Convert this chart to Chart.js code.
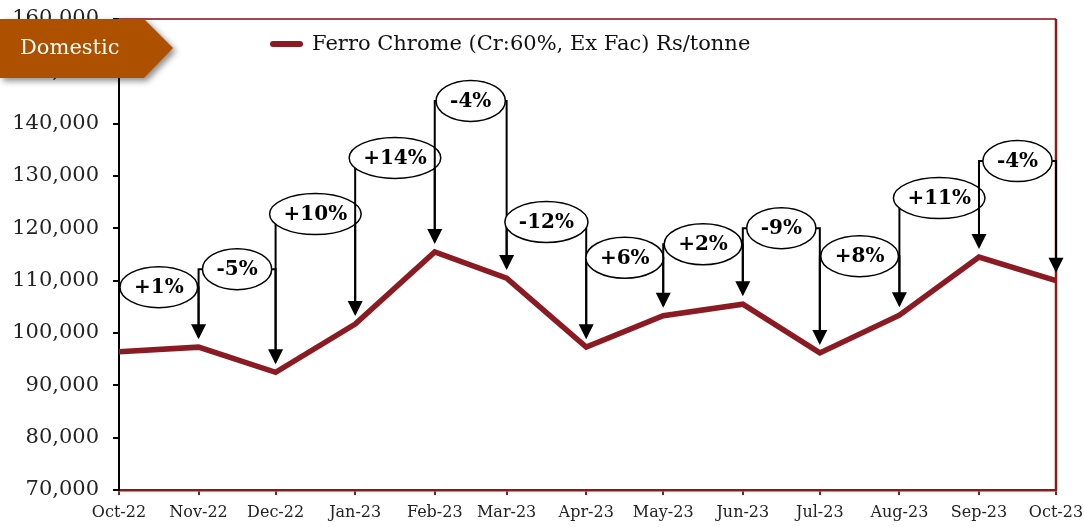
<!DOCTYPE html>
<html>
<head>
<meta charset="utf-8">
<script src="https://cdn.jsdelivr.net/npm/chart.js@4.4.1/dist/chart.umd.min.js"></script>
<style>
  html, body { margin: 0; padding: 0; background: #fff; }
  #wrap { width: 1084px; height: 527px; position: relative; }
</style>
</head>
<body>
<div id="wrap"><canvas id="ferroChart"></canvas></div>
<script>
// data
var monthDates = ['2022-10-01', '2022-11-01', '2022-12-01', '2023-01-01', '2023-02-01', '2023-03-01', '2023-04-01',
                  '2023-05-01', '2023-06-01', '2023-07-01', '2023-08-01', '2023-09-01', '2023-10-01'];
var monthLabels = ['Oct-22', 'Nov-22', 'Dec-22', 'Jan-23', 'Feb-23', 'Mar-23', 'Apr-23',
                   'May-23', 'Jun-23', 'Jul-23', 'Aug-23', 'Sep-23', 'Oct-23'];
var ferroChrome = [96400, 97300, 92500, 101700, 115500, 110500, 97300, 103300, 105500, 96200, 103400, 114500, 110000];
var changeLabels = ['+1%', '-5%', '+10%', '+14%', '-4%', '-12%', '+6%', '+2%', '-9%', '+8%', '+11%', '-4%'];
var yTicks = [70000, 80000, 90000, 100000, 110000, 120000, 130000, 140000, 150000, 160000];
var seriesName = 'Ferro Chrome (Cr:60%, Ex Fac) Rs/tonne';
var boxTitle = 'Domestic';

// how high each callout bubble sits above the higher of its two points (px)
var calloutLift = [60, 78, 110, 94, 151, 56, 58, 60, 76, 59, 59, 96];

var lineColor = '#8B1A22';
var serif = "'DejaVu Serif', serif";

// month positions in days since the first month (the axis is a day scale)
var dayOffsets = monthDates.map(function(d) {
    return (Date.parse(d) - Date.parse(monthDates[0])) / 86400000;
});

var points = dayOffsets.map(function(x, i) { return { x: x, y: ferroChrome[i] }; });

var extrasPlugin = {
    id: 'extras',
    beforeDatasetsDraw: function(chart) {
        var ctx = chart.ctx, a = chart.chartArea;
        ctx.save();
        // top frame line
        ctx.strokeStyle = '#A4474B';
        ctx.lineWidth = 2;
        ctx.beginPath();
        ctx.moveTo(a.left, a.top);
        ctx.lineTo(a.right, a.top);
        ctx.stroke();
        // right frame line
        ctx.strokeStyle = '#8B1A1A';
        ctx.lineWidth = 2.5;
        ctx.beginPath();
        ctx.moveTo(a.right, a.top);
        ctx.lineTo(a.right, a.bottom);
        ctx.stroke();
        ctx.restore();
    },
    afterDatasetsDraw: function(chart) {
        var ctx = chart.ctx;
        var xs = chart.scales.x, ys = chart.scales.y;
        ctx.save();
        // legend
        ctx.strokeStyle = lineColor;
        ctx.lineWidth = 6;
        ctx.lineCap = 'round';
        ctx.beginPath();
        ctx.moveTo(273, 44);
        ctx.lineTo(300, 44);
        ctx.stroke();
        ctx.lineCap = 'butt';
        ctx.fillStyle = '#111';
        ctx.font = '21px ' + serif;
        ctx.textBaseline = 'middle';
        ctx.textAlign = 'left';
        ctx.fillText(seriesName, 312, 45);

        // change callouts
        ctx.font = 'bold 20px ' + serif;
        ctx.textAlign = 'center';
        for (var i = 1; i < ferroChrome.length; i++) {
            var x0 = xs.getPixelForValue(dayOffsets[i - 1]);
            var x1 = xs.getPixelForValue(dayOffsets[i]);
            var y0 = ys.getPixelForValue(ferroChrome[i - 1]);
            var y1 = ys.getPixelForValue(ferroChrome[i]);
            var cy = Math.min(y0, y1) - calloutLift[i - 1];
            var tip = y1 - 8;
            ctx.strokeStyle = '#000';
            ctx.lineWidth = 2;
            ctx.beginPath();
            ctx.moveTo(x0, y0 - 10);
            ctx.lineTo(x0, cy);
            ctx.lineTo(x1, cy);
            ctx.lineTo(x1, tip - 14);
            ctx.stroke();
            ctx.fillStyle = '#000';
            ctx.beginPath();
            ctx.moveTo(x1 - 7.5, tip - 15);
            ctx.lineTo(x1 + 7.5, tip - 15);
            ctx.lineTo(x1, tip);
            ctx.closePath();
            ctx.fill();

            var label = changeLabels[i - 1];
            var tw = ctx.measureText(label).width;
            var cx = (x0 + x1) / 2;
            ctx.beginPath();
            ctx.ellipse(cx, cy, tw / 2 + 14, 20.5, 0, 0, Math.PI * 2);
            ctx.fillStyle = '#fff';
            ctx.fill();
            ctx.lineWidth = 1.5;
            ctx.stroke();
            ctx.fillStyle = '#000';
            ctx.fillText(label, cx, cy + 1);
        }
        ctx.restore();
    },
    afterDraw: function(chart) {
        var ctx = chart.ctx;
        ctx.save();
        ctx.shadowColor = 'rgba(0,0,0,0.45)';
        ctx.shadowBlur = 6;
        ctx.shadowOffsetX = 3;
        ctx.shadowOffsetY = 3;
        ctx.fillStyle = '#AD5000';
        ctx.beginPath();
        ctx.moveTo(0, 19);
        ctx.lineTo(144, 19);
        ctx.lineTo(173, 48);
        ctx.lineTo(144, 78);
        ctx.lineTo(0, 78);
        ctx.closePath();
        ctx.fill();
        ctx.shadowColor = 'transparent';
        ctx.fillStyle = '#fff';
        ctx.font = '21px ' + serif;
        ctx.textAlign = 'left';
        ctx.textBaseline = 'middle';
        ctx.fillText(boxTitle, 20, 49);
        ctx.restore();
    }
};

function noOverflow(scale) {
    scale.paddingTop = 0;
    scale.paddingBottom = 0;
    scale.paddingLeft = 0;
    scale.paddingRight = 0;
}

var ctx = document.getElementById('ferroChart').getContext('2d');
var ferroChart = new Chart(ctx, {
    type: 'line',
    data: {
        datasets: [
            {
                label: seriesName,
                data: points,
                borderColor: lineColor,
                backgroundColor: lineColor,
                borderWidth: 5.5,
                pointRadius: 0,
                fill: false,
                tension: 0
            }
        ]
    },
    options: {
        responsive: true,
        maintainAspectRatio: false,
        animation: false,
        layout: { padding: { top: 19, right: 28, bottom: 0, left: 0 } },
        scales: {
            x: {
                type: 'linear',
                min: dayOffsets[0],
                max: dayOffsets[dayOffsets.length - 1],
                afterBuildTicks: function(scale) {
                    scale.ticks = dayOffsets.map(function(v) { return { value: v }; });
                },
                afterFit: function(scale) { scale.height = 37; noOverflow(scale); },
                grid: { drawOnChartArea: false, drawTicks: true, tickLength: 5, color: '#8B1A1A', lineWidth: 2 },
                border: { color: '#8B1A1A', width: 2.5 },
                ticks: {
                    autoSkip: false,
                    maxRotation: 0,
                    padding: 8,
                    color: '#222',
                    font: { family: serif, size: 16 },
                    callback: function(v, i) { return monthLabels[i]; }
                }
            },
            y: {
                min: yTicks[0],
                max: yTicks[yTicks.length - 1],
                afterBuildTicks: function(scale) {
                    scale.ticks = yTicks.map(function(v) { return { value: v }; });
                },
                afterFit: function(scale) { scale.width = 119; noOverflow(scale); },
                grid: { drawOnChartArea: false, drawTicks: true, tickLength: 6, color: '#000', lineWidth: 2 },
                border: { color: '#000', width: 2 },
                ticks: {
                    padding: 14,
                    color: '#222',
                    font: { family: serif, size: 21 },
                    callback: function(v) { return v.toLocaleString('en-US'); }
                }
            }
        },
        plugins: {
            legend: { display: false },
            tooltip: { enabled: false }
        }
    },
    plugins: [extrasPlugin]
});
</script>
</body>
</html>
